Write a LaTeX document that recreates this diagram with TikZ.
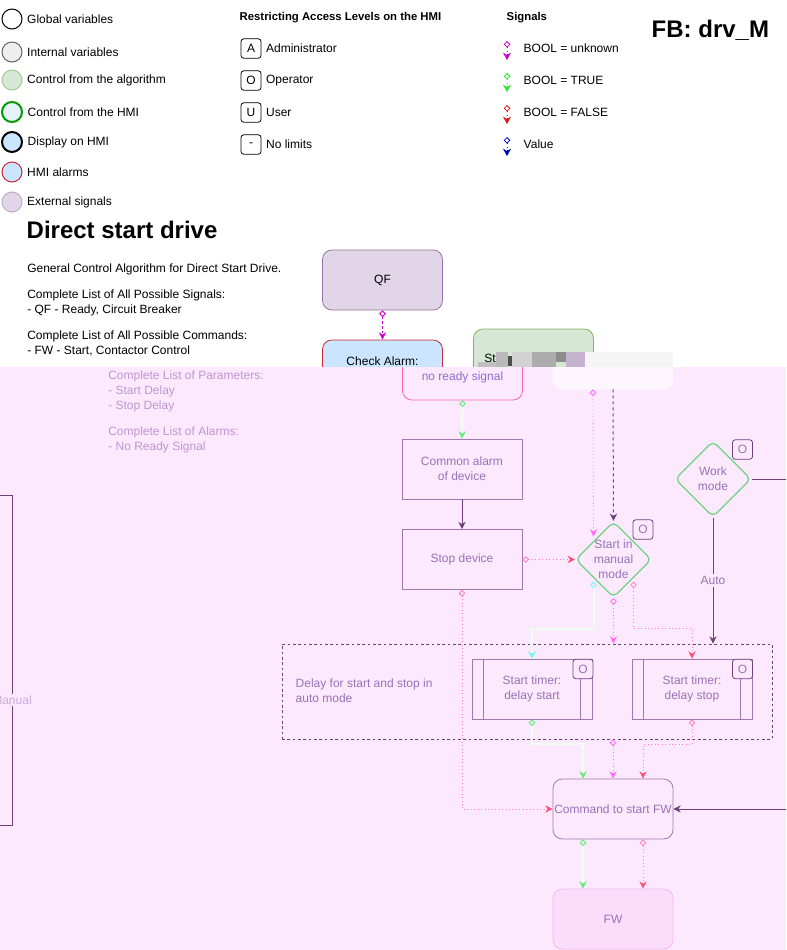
\documentclass[tikz,border=0pt]{standalone}
\usepackage{fontspec}
\setmainfont{Liberation Sans}
\usetikzlibrary{arrows.meta,shapes.geometric,calc}

\definecolor{pinkbg}{RGB}{253,233,253}
\definecolor{extfill}{RGB}{225,213,231}
\definecolor{extline}{RGB}{150,115,166}
\definecolor{algfill}{RGB}{213,232,212}
\definecolor{algline}{RGB}{130,179,102}
\definecolor{hmifill}{RGB}{204,229,255}
\definecolor{almline}{RGB}{200,40,55}
\definecolor{intfill}{RGB}{238,238,238}
\definecolor{intline}{RGB}{102,102,102}
\definecolor{hmigreen}{RGB}{0,153,0}
\definecolor{sigu}{RGB}{204,0,204}
\definecolor{sigt}{RGB}{40,230,40}
\definecolor{sigf}{RGB}{230,20,20}
\definecolor{sigv}{RGB}{0,0,204}
\definecolor{fline}{RGB}{160,120,175}
\definecolor{fdark}{RGB}{110,65,125}
\definecolor{ftext}{RGB}{150,115,185}
\definecolor{fpara}{RGB}{190,150,210}
\definecolor{fmag}{RGB}{255,110,255}
\definecolor{fpink}{RGB}{255,130,190}
\definecolor{fred}{RGB}{255,80,120}
\definecolor{fgreen}{RGB}{100,235,120}
\definecolor{fgline}{RGB}{238,255,242}
\definecolor{fcyan}{RGB}{100,250,250}
\definecolor{fdiam}{RGB}{110,210,130}
\definecolor{falarm}{RGB}{255,100,180}

\begin{document}
\begin{tikzpicture}[x=0.75pt,y=-0.75pt,
  every node/.style={font=\fontsize{9}{11.25}\selectfont},
  legdot/.style={circle,draw,minimum size=15pt,inner sep=0pt,line width=0.75pt,every label/.append style={xshift=1.5pt}},
  accbox/.style={draw,rounded corners=2pt,minimum width=15pt,minimum height=14.5pt,inner sep=0pt,line width=0.6pt,every label/.append style={xshift=1.5pt}},
  hdr/.style={anchor=west,font=\fontsize{8.5}{10}\bfseries\selectfont},
  blk/.style={draw,rounded corners=7pt,minimum width=90pt,minimum height=45pt,align=center,line width=0.6pt},
  fbox/.style={draw=fline,minimum width=90pt,minimum height=45pt,align=center,text=ftext,line width=0.6pt},
  fdia/.style={diamond,draw=fdiam,rounded corners=4pt,minimum size=57pt,inner sep=0pt,line width=0.9pt},
  facc/.style={accbox,draw=fdark,text=ftext},
  sig/.style={dotted,arrows={Diamond[open,length=5pt,width=5pt,line width=0.6pt]-Stealth[length=5.5pt,width=6pt]}},
  sigU/.style={draw=fmag,dotted,line width=0.6pt,arrows={Diamond[open,length=5pt,width=5pt]-Stealth[length=5.5pt,width=5.5pt]}},
  sigF/.style={draw=fpink,dotted,line width=0.6pt,arrows={Diamond[open,length=5pt,width=5pt]-Stealth[length=5.5pt,width=5.5pt,color=fred]}},
  sigT/.style={draw=fgline,line width=1.5pt,arrows={Diamond[open,length=5pt,width=5pt,line width=0.6pt,color=fgreen]-Stealth[length=5.5pt,width=5.5pt,color=fgreen]}},
  sigC/.style={draw=fgline,line width=1.5pt,arrows={Diamond[open,length=5pt,width=5pt,line width=0.6pt,color=fcyan]-Stealth[length=5.5pt,width=5.5pt,color=fcyan]}},
  ctl/.style={draw=fdark,line width=0.75pt,-{Stealth[length=5.5pt,width=5.5pt]}}]
\useasboundingbox (0,0) rectangle (786,950);

% legend
\node[legdot,fill=white,draw=black,label=right:Global variables] (lgGlob) at (12,19) {};
\node[legdot,fill=intfill,draw=intline,label=right:Internal variables] (lgInt) at (12,52) {};
\node[legdot,fill=algfill,draw=algline!70,label=right:Control from the algorithm] (lgAlg) at (12,80) {};
\node[legdot,fill=hmifill!50,draw=hmigreen,line width=1.5pt,label=right:Control from the HMI] (lgHmi) at (12,112) {};
\node[legdot,fill=hmifill,draw=black,line width=1.5pt,label=right:Display on HMI] (lgDisp) at (12,142) {};
\node[legdot,fill=hmifill,draw=almline,label=right:HMI alarms] (lgAlm) at (12,172) {};
\node[legdot,fill=extfill,draw=extline!60,label=right:External signals] (lgExt) at (12,202) {};

\node[hdr] (accHdr) at (235,18) {Restricting Access Levels on the HMI};
\node[accbox,label=right:Administrator] (accA) at (251,48.5) {A};
\node[accbox,label=right:Operator] (accO) at (251,80.5) {O};
\node[accbox,label=right:User] (accU) at (251,112.5) {U};
\node[accbox,label=right:No limits] (accN) at (251,144.5) {-};

\node[hdr] (sigHdr) at (502,18) {Signals};
\node[anchor=west] (sU) at (519,48) {BOOL = unknown};
\node[anchor=west] (sT) at (519,80) {BOOL = TRUE};
\node[anchor=west] (sF) at (519,112) {BOOL = FALSE};
\node[anchor=west] (sV) at (519,144) {Value};
\draw[sig,draw=sigu] ($(sU.west)+(-12,-7)$) -- ($(sU.west)+(-12,12)$);
\draw[sig,draw=sigt] ($(sT.west)+(-12,-7)$) -- ($(sT.west)+(-12,12)$);
\draw[sig,draw=sigf] ($(sF.west)+(-12,-7)$) -- ($(sF.west)+(-12,12)$);
\draw[sig,draw=sigv] ($(sV.west)+(-12,-7)$) -- ($(sV.west)+(-12,12)$);

\node[anchor=west,font=\fontsize{18}{20}\bfseries\selectfont] (fbName) at (647,30) {FB: drv\_M};

% description
\node[anchor=west,font=\fontsize{18}{20}\bfseries\selectfont] (title) at (22,230) {Direct start drive};
\node[anchor=north west,align=left,inner sep=0pt] (desc) at (27,263.5) {General Control Algorithm for Direct Start Drive.\\[8.25pt]
  Complete List of All Possible Signals:\\- QF - Ready, Circuit Breaker\\[8.25pt]
  Complete List of All Possible Commands:\\- FW - Start, Contactor Control};

% top blocks
\node[blk,fill=extfill,draw=extline] (qf) at (382.5,280) {QF};
\node[blk,fill=hmifill,draw=almline] (chk) at (382.5,370) {Check Alarm:\\no ready signal};
\node[blk,fill=algfill,draw=algline] (gbx) at (533.5,359) {};
\node[anchor=west,inner sep=0pt] (gbxTxt) at (484,358) {St};
\draw[draw=sigu,dash pattern=on 2pt off 1.5pt,line width=0.6pt,arrows={Diamond[open,length=5pt,width=5pt]-Stealth[length=5.5pt,width=5.5pt]}] (qf.south) -- (chk.north);
\fill[gray!55] (496,352) rectangle (508,368);
\fill[black!70] (508,356) rectangle (512,366);
\fill[gray!35] (512,352) rectangle (532,368);
\fill[gray!65] (532,352) rectangle (556,368);
\fill[black!45] (556,352) rectangle (566,362);
\fill[extline!55] (566,352) rectangle (585,368);
\fill[gray!50] (478,362) rectangle (496,368);
\fill[gray!8] (585,352) rectangle (673,368);

% faded lower part
\begin{scope}
\clip (0,367) rectangle (786,950);
\fill[pinkbg] (0,367) rectangle (786,950);
\node[anchor=north west,align=left,inner sep=0pt,text=fpara] (par) at (108,371) {Complete List of Parameters:\\- Start Delay\\- Stop Delay\\[8.25pt]
  Complete List of Alarms:\\- No Ready Signal};

\draw[draw=fdark,line width=0.75pt] (-5,495) -| (12,825) -- (-5,825);
\node[fill=pinkbg,text=fpara!80,inner sep=1pt] (man) at (12,700) {Manual};

\node[blk,draw=white!70!pinkbg,fill=white!60!pinkbg] (wb) at (613,359) {};
\node[blk,draw=falarm,text={rgb,255:red,140;green,110;blue,210}] (nrs) at (462.5,370) {Check Alarm:\\no ready signal};
\node[fbox] (cad) at (462,469) {Common alarm\\of device};
\node[fbox] (stp) at (462,559.5) {Stop device};
\node[fdia,label={[align=center,text=ftext]center:Start in\\manual\\mode}] (sim) at (613.5,559.5) {};
\node[facc] (simAcc) at (643,529.5) {O};
\node[fdia,label={[align=center,text=ftext]center:Work\\mode}] (wm) at (713,479) {};
\node[facc] (wmAcc) at (742.5,449.5) {O};

\node[draw=fdark,dash pattern=on 2pt off 2pt,line width=0.6pt,minimum width=367.5pt,minimum height=71.25pt,inner sep=0pt] (grp) at (527,691.5) {};
\node[anchor=west,align=left,text=ftext] (grpTxt) at (291,691) {Delay for start and stop in\\auto mode};
\node[fbox] (dst) at (532,689) {Start timer:\\delay start};
\node[fbox] (dsp) at (692,689) {Start timer:\\delay stop};
\draw[draw=fline,line width=0.6pt] ([xshift=9pt]dst.north west) -- ([xshift=9pt]dst.south west);
\draw[draw=fline,line width=0.6pt] ([xshift=-9pt]dst.north east) -- ([xshift=-9pt]dst.south east);
\draw[draw=fline,line width=0.6pt] ([xshift=9pt]dsp.north west) -- ([xshift=9pt]dsp.south west);
\draw[draw=fline,line width=0.6pt] ([xshift=-9pt]dsp.north east) -- ([xshift=-9pt]dsp.south east);
\node[facc,fill=pinkbg] (dstAcc) at (583,669) {O};
\node[facc,fill=pinkbg] (dspAcc) at (742.5,669) {O};

\node[blk,draw=fline,text=ftext,inner xsep=0pt] (cmd) at (613,809) {Command to start FW};
\node[blk,draw={rgb,255:red,242;green,185;blue,242},fill={rgb,255:red,251;green,220;blue,251},text=ftext] (fw) at (613,919) {FW};
\coordinate (wmR) at (800,479);
\coordinate (cmdR) at (800,809);

\draw[sigT] (nrs.south) -- (cad.north);
\draw[ctl] (cad.south) -- (stp.north);
\draw[sigF] (stp.east) -- (sim.west);
\draw[sigU] ([xshift=-15pt]wb.south) -- ($(sim.center)+(-20,-23)$);
\draw[ctl,dash pattern=on 2.25pt off 2.25pt] (wb.south) -- (sim.north);
\draw[draw=fdark,line width=0.75pt] (wm.east) -- (wmR);
\draw[ctl] (wm.south) -- node[fill=pinkbg,text=ftext,inner sep=1.5pt] (auto) {Auto} (wm.south |- grp.north);
\draw[sigU] (sim.south) -- (sim.south |- grp.north);
\draw[sigC] ($(sim.center)+(-20,22)$) -- ++(0,47) -| (dst.north);
\draw[sigF] ($(sim.center)+(20,22)$) -- ++(0,47) -| (dsp.north);
\draw[sigF] (stp.south) |- (cmd.west);
\draw[sigT] (dst.south) -- ++(0,25) -| ([xshift=-22.5pt]cmd.north);
\draw[sigU] (grp.south -| cmd.north) -- (cmd.north);
\draw[sigF] (dsp.south) -- ++(0,25) -| ([xshift=22.5pt]cmd.north);
\draw[ctl] (cmdR) -- (cmd.east);
\draw[sigT] ([xshift=-22.5pt]cmd.south) -- ([xshift=-22.5pt]fw.north);
\draw[sigF] ([xshift=22.5pt]cmd.south) -- ([xshift=22.5pt]fw.north);
\end{scope}
\end{tikzpicture}
\end{document}
